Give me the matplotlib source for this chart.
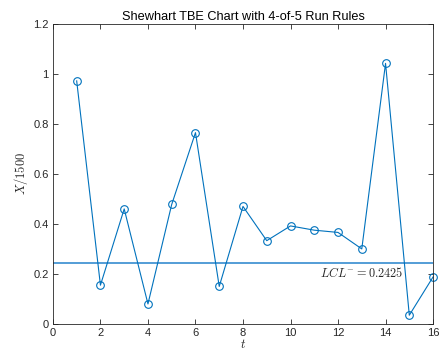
import matplotlib
matplotlib.use("Agg")
import matplotlib.pyplot as plt

plt.rcParams['font.family'] = ['Liberation Sans', 'DejaVu Sans']
plt.rcParams['mathtext.fontset'] = 'cm'

t = list(range(1, 17))
x_scaled = [0.972, 0.155, 0.46, 0.08, 0.478, 0.765, 0.15, 0.47, 0.333,
            0.392, 0.375, 0.366, 0.30, 1.042, 0.035, 0.188]
lcl = 0.2425
title = "Shewhart TBE Chart with 4-of-5 Run Rules"
xticks = list(range(0, 17, 2))
yticks = [0, 0.2, 0.4, 0.6, 0.8, 1.0, 1.2]
yticklabels = ['0', '0.2', '0.4', '0.6', '0.8', '1', '1.2']

fig = plt.figure(figsize=(4.41, 3.56), dpi=100)
ax = fig.add_axes([0.120, 0.090, 0.862, 0.843])

blue = '#0072BD'
ax.axhline(lcl, color='#4595D3', lw=1.3, zorder=1)
ax.plot(t, x_scaled, color=blue, lw=0.8, marker='o', markersize=5.5,
        markerfacecolor='none', markeredgewidth=0.8, zorder=2, clip_on=False)
ax.text(14.75, lcl - 0.012, r'$LCL^{-} = 0.2425$', ha='right', va='top',
        fontsize=8.8, color='#262626')

ax.set_xlim(0, 16)
ax.set_ylim(0, 1.2)
ax.set_xticks(xticks)
ax.set_yticks(yticks)
ax.set_yticklabels(yticklabels)
ax.tick_params(direction='in', top=True, right=True, length=3.5, width=0.6,
               labelsize=8, colors='#262626', pad=3)
for s in ax.spines.values():
    s.set_color('#262626')
    s.set_linewidth(0.6)
ax.set_title(title, fontsize=9.2, color='black', pad=3)
ax.set_xlabel(r'$t$', fontsize=9, labelpad=0, color='#262626')
ax.set_ylabel(r'$X/1500$', fontsize=9, labelpad=2, color='#262626')

fig.savefig('out.png', dpi=100)
